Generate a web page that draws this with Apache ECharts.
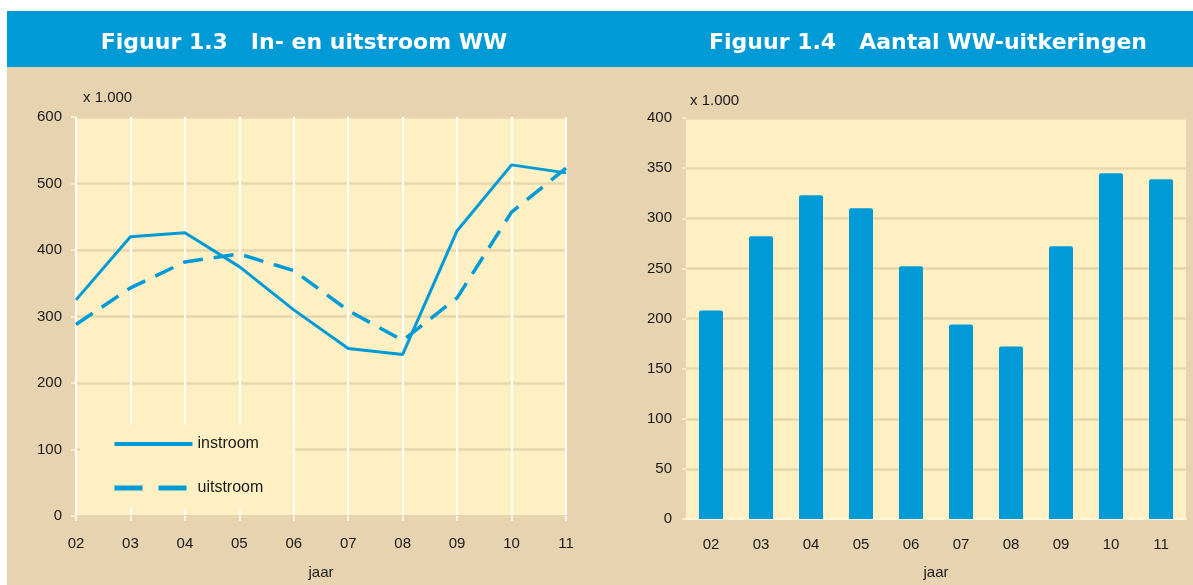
<!DOCTYPE html>
<html>
<head>
<meta charset="utf-8">
<script src="https://cdn.jsdelivr.net/npm/echarts@6/dist/echarts.min.js"></script>
<style>
  html, body { margin: 0; padding: 0; background: #fff; }
  #chart { width: 1193px; height: 585px; }
</style>
</head>
<body>
<div id="chart"></div>
<script>
// data
var years = ['02', '03', '04', '05', '06', '07', '08', '09', '10', '11'];
var instroom = [325, 420, 426, 375, 310, 252, 243, 429, 528, 516];
var uitstroom = [288, 343, 382, 394, 369, 309, 264, 328, 457, 523];
var uitkeringen = [208, 282, 323, 310, 252, 194, 172, 272, 345, 339];
var leftTicks = [0, 600, 100];   // min, max, interval
var rightTicks = [0, 400, 50];

var blue = '#009AD7';
var beige = '#E7D3AF';
var plotBg = '#FEF0C3';
var gridCol = '#E8D6AE';
var font = "'Liberation Sans', Arial, sans-serif";
var titleFont = "'DejaVu Sans', sans-serif";

var chart = echarts.init(document.getElementById('chart'));

var labelStyle = { color: '#1a1a1a', fontSize: 15, fontFamily: font };

var option = {
  backgroundColor: '#ffffff',
  animation: false,
  graphic: [
    { type: 'rect', shape: { x: 7, y: 11, width: 1186, height: 574 }, style: { fill: beige }, z: -10 },
    { type: 'rect', shape: { x: 7, y: 11, width: 1186, height: 56 }, style: { fill: blue }, z: -9 },
    { type: 'text', left: 83, top: 90, style: { text: 'x 1.000', fill: '#1a1a1a', font: '15px ' + font } },
    { type: 'text', left: 690, top: 93, style: { text: 'x 1.000', fill: '#1a1a1a', font: '15px ' + font } }
  ],
  title: [
    {
      text: 'Figuur 1.3   In- en uitstroom WW',
      left: 299, top: 27, textAlign: 'center',
      textStyle: { color: '#fff', fontSize: 22, fontWeight: 'bold', fontFamily: titleFont }
    },
    {
      text: 'Figuur 1.4   Aantal WW-uitkeringen',
      left: 923, top: 27, textAlign: 'center',
      textStyle: { color: '#fff', fontSize: 22, fontWeight: 'bold', fontFamily: titleFont }
    }
  ],
  legend: {
    orient: 'vertical',
    left: 80, top: 425,
    padding: [11, 30, 12, 32],
    backgroundColor: plotBg,
    itemWidth: 78, itemHeight: 14, itemGap: 28,
    itemStyle: { opacity: 0 },
    textStyle: { color: '#1a1a1a', fontSize: 16, fontFamily: font },
    data: [
      { name: 'instroom', lineStyle: { width: 4 } },
      { name: 'uitstroom', lineStyle: { width: 5, type: [28, 16] } }
    ]
  },
  grid: [
    { left: 76, top: 117, width: 490, height: 400, show: true, backgroundColor: plotBg, borderWidth: 0 },
    { left: 686, top: 118, width: 500, height: 402, show: true, backgroundColor: plotBg, borderWidth: 0 }
  ],
  xAxis: [
    {
      gridIndex: 0, type: 'category', data: years, boundaryGap: false,
      name: 'jaar', nameLocation: 'middle', nameGap: 49,
      nameTextStyle: labelStyle,
      axisLine: { lineStyle: { color: gridCol, width: 2 } },
      axisTick: { show: true, length: 5, lineStyle: { color: '#ffffff', width: 1.5 } },
      axisLabel: Object.assign({ margin: 20 }, labelStyle),
      splitLine: { show: true, lineStyle: { color: '#ffffff', width: 2 } }
    },
    {
      gridIndex: 1, type: 'category', data: years, boundaryGap: true,
      name: 'jaar', nameLocation: 'middle', nameGap: 46,
      nameTextStyle: labelStyle,
      axisLine: { lineStyle: { color: '#FFF6DA', width: 2 } },
      axisTick: { show: false },
      axisLabel: Object.assign({ margin: 18 }, labelStyle),
      splitLine: { show: false }
    }
  ],
  yAxis: [
    {
      gridIndex: 0, type: 'value', min: leftTicks[0], max: leftTicks[1], interval: leftTicks[2],
      axisLine: { show: false },
      axisTick: { show: true, length: 5, lineStyle: { color: '#FFF3D0', width: 1.5 } },
      axisLabel: Object.assign({ margin: 14 }, labelStyle),
      splitLine: { show: true, lineStyle: { color: gridCol, width: 2.5 } }
    },
    {
      gridIndex: 1, type: 'value', min: rightTicks[0], max: rightTicks[1], interval: rightTicks[2],
      axisLine: { show: false },
      axisTick: { show: true, length: 4, lineStyle: { color: '#FFF3D0', width: 1.5 } },
      axisLabel: Object.assign({ margin: 14 }, labelStyle),
      splitLine: { show: true, lineStyle: { color: gridCol, width: 2.5 } }
    }
  ],
  series: [
    {
      name: 'instroom', type: 'line', xAxisIndex: 0, yAxisIndex: 0,
      data: instroom, showSymbol: false, symbol: 'none',
      itemStyle: { color: blue },
      lineStyle: { color: blue, width: 3 }
    },
    {
      name: 'uitstroom', type: 'line', xAxisIndex: 0, yAxisIndex: 0,
      data: uitstroom, showSymbol: false, symbol: 'none',
      itemStyle: { color: blue },
      lineStyle: { color: blue, width: 3.5, type: [20, 11] }
    },
    {
      name: 'WW-uitkeringen', type: 'bar', xAxisIndex: 1, yAxisIndex: 1,
      data: uitkeringen, barWidth: 24,
      itemStyle: { color: blue, borderRadius: [2, 2, 0, 0] }
    }
  ]
};

option && chart.setOption(option);
</script>
</body>
</html>
